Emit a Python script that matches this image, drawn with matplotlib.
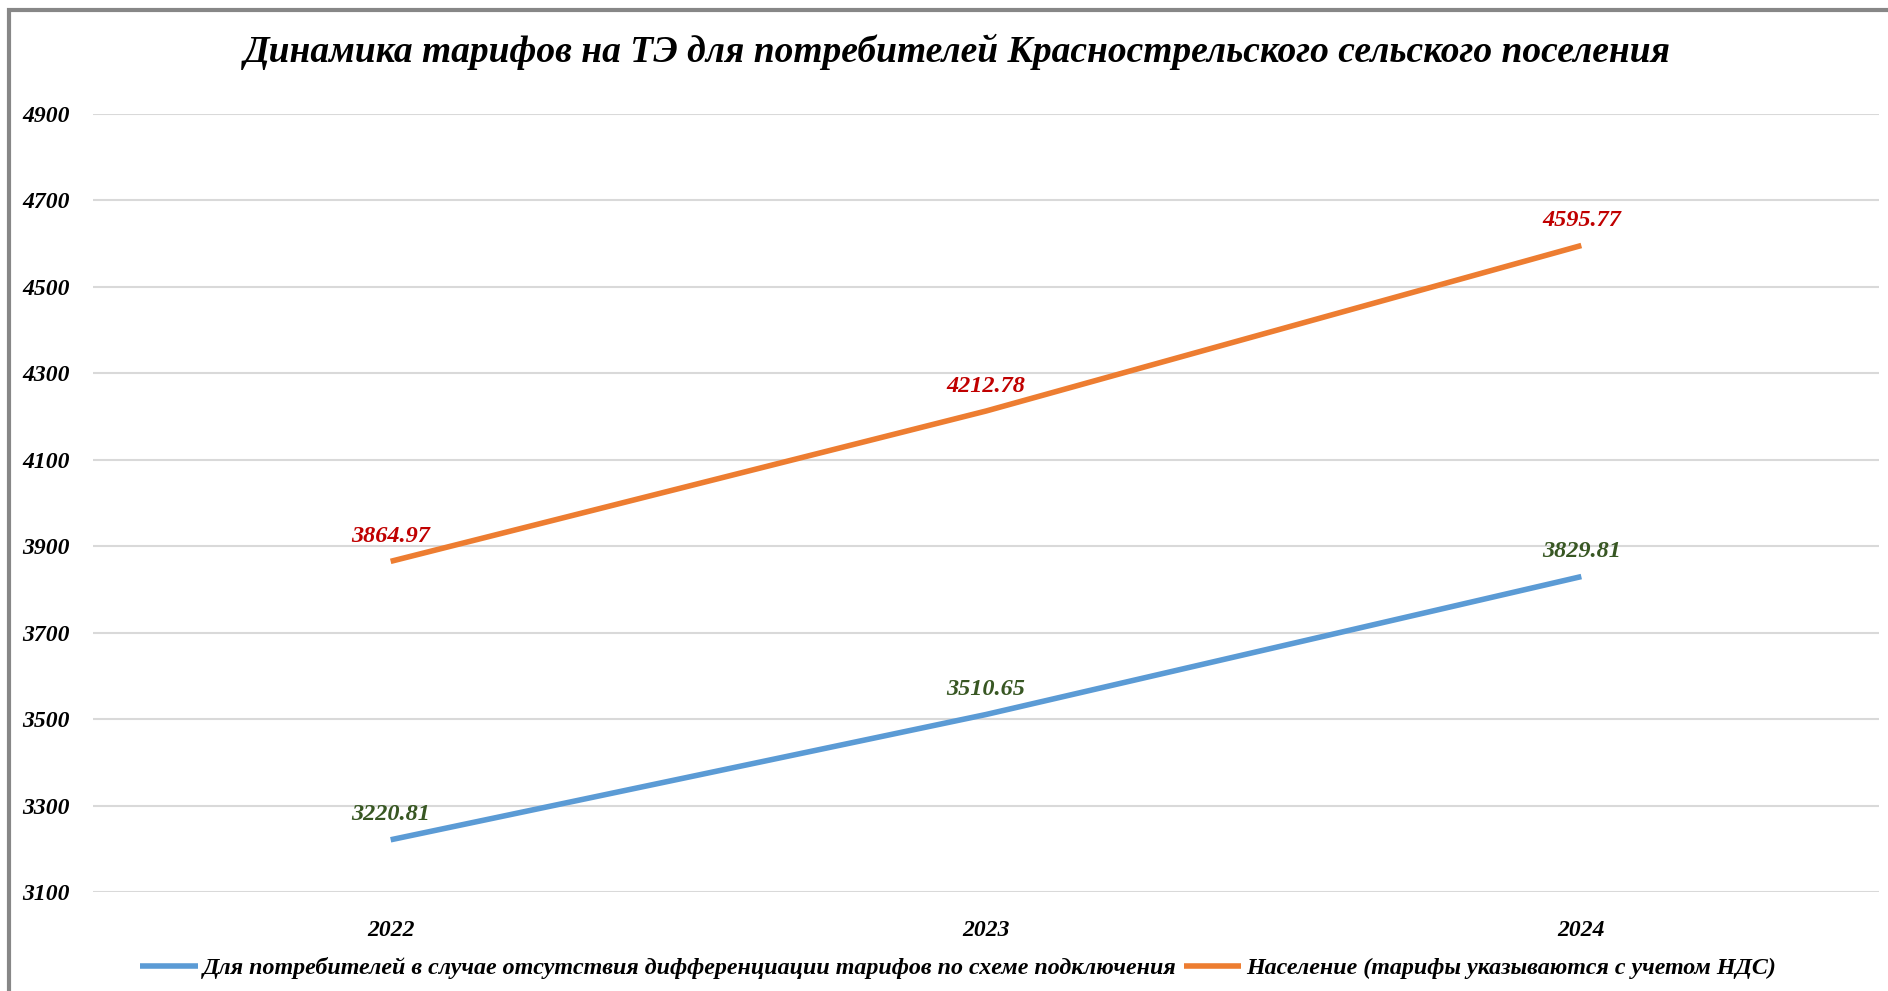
import matplotlib
matplotlib.use("Agg")
import matplotlib.pyplot as plt
from matplotlib.patches import Rectangle

years = ["2022", "2023", "2024"]
series1_name = "Для потребителей в случае отсутствия дифференциации тарифов по схеме подключения"
series1 = [3220.81, 3510.65, 3829.81]
series2_name = "Население (тарифы указываются с учетом НДС)"
series2 = [3864.97, 4212.78, 4595.77]
yticks = [3100, 3300, 3500, 3700, 3900, 4100, 4300, 4500, 4700, 4900]
title = "Динамика тарифов на ТЭ для потребителей Краснострельского сельского поселения"

FONT = "Liberation Serif"
BLUE = "#5B9BD5"
ORANGE = "#ED7D31"
RED = "#C00000"
GREEN = "#385723"

fig = plt.figure(figsize=(18.88, 9.91), dpi=100)
fig.patch.set_facecolor("white")
ax = fig.add_axes([93/1888, 1-892/991, (1879-93)/1888, (892-114)/991])

x = list(range(len(years)))
ax.plot(x, series1, color=BLUE, lw=4, solid_capstyle="butt", label=series1_name, zorder=3)
ax.plot(x, series2, color=ORANGE, lw=4, solid_capstyle="butt", label=series2_name, zorder=3)

for xi, v in zip(x, series1):
    ax.annotate(f"{v:.2f}", (xi, v), xytext=(0, 14), textcoords="offset points",
                ha="center", va="baseline", color=GREEN, fontsize=17.5,
                family=FONT, weight="bold", style="italic")
for xi, v in zip(x, series2):
    ax.annotate(f"{v:.2f}", (xi, v), xytext=(0, 14), textcoords="offset points",
                ha="center", va="baseline", color=RED, fontsize=17.5,
                family=FONT, weight="bold", style="italic")

ax.set_xlim(-0.5, 2.5)
ax.set_ylim(3100, 4900)
ax.set_yticks(yticks)
ax.set_yticklabels([str(t) for t in yticks])
ax.set_xticks(x)
ax.set_xticklabels(years)
ax.grid(axis="y", color="#D9D9D9", lw=1.5)
ax.set_axisbelow(True)
for s in ax.spines.values():
    s.set_visible(False)
ax.tick_params(axis="both", length=0)
ax.tick_params(axis="y", pad=17)
ax.tick_params(axis="x", pad=20)
for lab in ax.get_yticklabels() + ax.get_xticklabels():
    lab.set_family(FONT)
    lab.set_weight("bold")
    lab.set_style("italic")
    lab.set_fontsize(17)

fig.text(957/1888, 1-52/991, title, ha="center", va="center", fontsize=27,
         family=FONT, weight="bold", style="italic")

leg = fig.legend(loc="center", bbox_to_anchor=(958/1888, 1-968/991), ncol=2, frameon=False,
                 prop={"family": FONT, "weight": "bold", "style": "italic", "size": 17.3},
                 handlelength=2.4, handletextpad=0.2, columnspacing=0.3)

fig.add_artist(Rectangle((9/1888, -0.1), 2, 1.1 - 10/991, transform=fig.transFigure,
                         fill=False, edgecolor="#878787", lw=3))

fig.savefig("out.png", dpi=100)
